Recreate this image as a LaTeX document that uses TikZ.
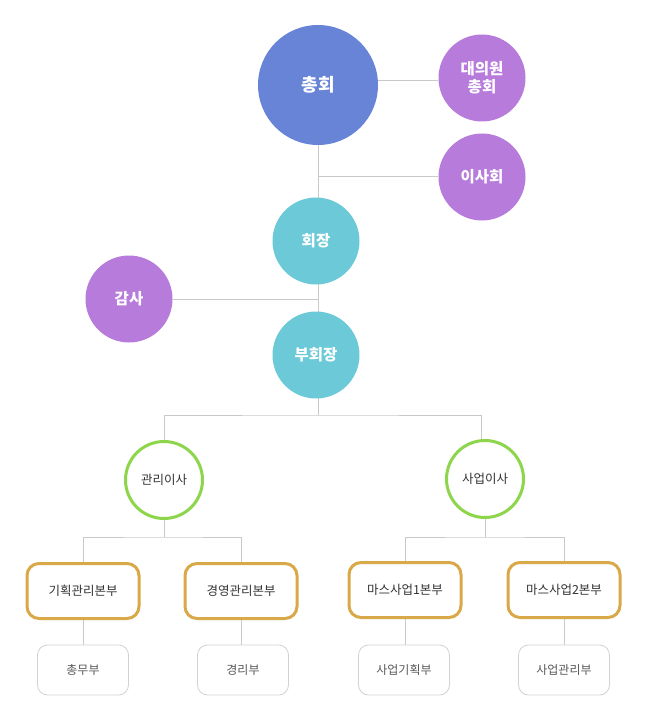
\documentclass[tikz,border=0pt]{standalone}
\usepackage{fontspec}
\setmainfont{Noto Sans CJK KR}
\usepackage{tikz}
\usetikzlibrary{backgrounds}
\usepackage{xcolor}

\definecolor{chongBlue}{HTML}{6884D7}
\definecolor{boPurple}{HTML}{B77BDB}
\definecolor{hoeCyan}{HTML}{6CCAD8}
\definecolor{isaGreen}{HTML}{8DD54B}
\definecolor{bonGold}{HTML}{D9A848}
\definecolor{boxGray}{HTML}{D2D2D2}
\definecolor{wireGray}{HTML}{C9C9C9}

\tikzset{
	bigcirc/.style={circle, inner sep=0pt, align=center, text=white, font=\bfseries\fontsize{15.5}{18}\selectfont},
	isacirc/.style={circle, draw=isaGreen, line width=3pt, fill=white, minimum size=77pt, text=black!80, font=\fontsize{12.5}{14}\selectfont},
	bonbox/.style={rectangle, rounded corners=12pt, draw=bonGold, line width=3pt, fill=white, minimum width=112pt, minimum height=55pt, text=black!80, font=\fontsize{12.5}{14}\selectfont},
	bubox/.style={rectangle, rounded corners=10pt, draw=boxGray, line width=0.8pt, fill=white, minimum width=91pt, minimum height=50pt, text=black!65, font=\fontsize{12}{14}\selectfont},
	wire/.style={draw=wireGray, line width=1pt}
}

\begin{document}
\begin{tikzpicture}[x=1pt, y=-1pt]
	\useasboundingbox (0,0) rectangle (650,714);

	\node[bigcirc, fill=chongBlue, minimum size=120pt, font=\bfseries\fontsize{18}{20}\selectfont] (chonghoe) at (318,85) {총회};
	\node[bigcirc, fill=boPurple, minimum size=87pt] (daeui) at (482,78) {대의원\\총회};
	\node[bigcirc, fill=boPurple, minimum size=87pt] (isahoe) at (482,177) {이사회};
	\node[bigcirc, fill=hoeCyan, minimum size=87pt] (hoejang) at (316,241) {회장};
	\node[bigcirc, fill=boPurple, minimum size=87pt] (gamsa) at (129,299) {감사};
	\node[bigcirc, fill=hoeCyan, minimum size=87pt] (buhoe) at (316,355) {부회장};

	\node[isacirc] (gwanri) at (164,480) {관리이사};
	\node[isacirc] (saeop) at (485,479) {사업이사};

	\node[bonbox] (gihoek) at (83,591) {기획관리본부};
	\node[bonbox] (gyeong) at (241,591) {경영관리본부};
	\node[bonbox] (mas1) at (405,590) {마스사업1본부};
	\node[bonbox] (mas2) at (564,590) {마스사업2본부};

	\node[bubox] (chongmu) at (83,670) {총무부};
	\node[bubox] (gyeongri) at (243,670) {경리부};
	\node[bubox] (sgihoek) at (404,670) {사업기획부};
	\node[bubox] (sgwanri) at (564,670) {사업관리부};

	\coordinate (split) at (318,415);
	\coordinate (stop) at (481,445);
	\coordinate (gsplit) at (164,537);
	\coordinate (ssplit) at (485,537);

	\begin{scope}[on background layer]
		\draw[wire] (chonghoe) -- (chonghoe -| 318,0) -- (split);
		\draw[wire] (318,81) -- (daeui.west |- 0,81);
		\draw[wire] (chonghoe |- isahoe) -- (isahoe);
		\draw[wire] (gamsa) -- (gamsa -| chonghoe);
		\draw[wire] (gwanri) |- (split) -| (stop);
		\draw[wire] (gwanri) -- (gsplit);
		\draw[wire] (gihoek) |- (gsplit) -| (gyeong);
		\draw[wire] (saeop) -- (ssplit);
		\draw[wire] (mas1) |- (ssplit) -| (mas2);
		\draw[wire] (gihoek) -- (chongmu);
		\draw[wire] (gyeong) -- (gyeong |- gyeongri);
		\draw[wire] (mas1) -- (mas1 |- sgihoek);
		\draw[wire] (mas2) -- (sgwanri);
	\end{scope}
\end{tikzpicture}
\end{document}
